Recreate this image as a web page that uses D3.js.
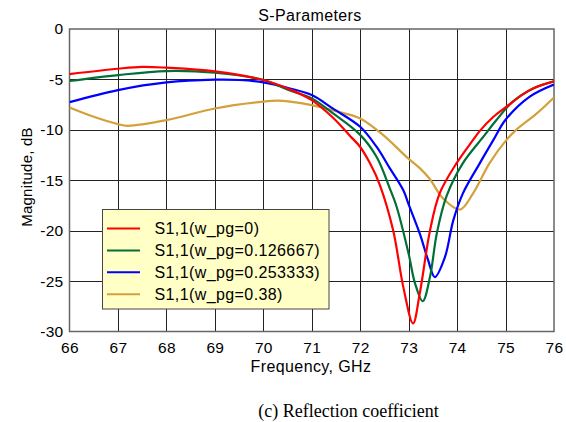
<!DOCTYPE html>
<html><head><meta charset="utf-8">
<script src="https://cdn.jsdelivr.net/npm/d3@7/dist/d3.min.js"></script>
<style>body{margin:0;background:#fff;}svg{display:block;font-family:"Liberation Sans",Arial,sans-serif;}</style>
</head><body><svg id="c" width="566" height="422"></svg>
<script>
const xTicks = [66,67,68,69,70,71,72,73,74,75,76];
const yTicks = [0,-5,-10,-15,-20,-25,-30];
const seriesNames = ["S1,1(w_pg=0)","S1,1(w_pg=0.126667)","S1,1(w_pg=0.253333)","S1,1(w_pg=0.38)"];
const seriesColors = ["#ff0000","#007036","#0000ff","#d4a03c"];

const freqRed = [66,67,67.5,68,69,70,70.55,71,71.44,71.79,72,72.2,72.4,72.68,72.89,73.09,73.23,73.44,73.64,73.99,74.33,74.47,74.75,75.02,75.5,76];
const magRed  = [-4.47,-3.94,-3.76,-3.84,-4.2,-5.06,-6.0,-7.05,-8.8,-10.6,-11.7,-13.3,-15.4,-19.96,-25.6,-29.2,-26.2,-20,-16.3,-13.3,-11.0,-10.1,-8.7,-7.7,-6.06,-5.2];

const freqGreen = [66,67,68,69,70,70.55,71,71.44,72,72.34,72.61,72.75,73.0,73.13,73.29,73.44,73.58,73.78,74.12,74.54,74.8,75.15,75.57,76];
const magGreen  = [-5.16,-4.57,-4.17,-4.34,-5.06,-6.1,-6.88,-8.37,-10.5,-12.7,-15.8,-17.6,-22.3,-25.2,-27.0,-24.6,-20.3,-16.6,-13.3,-10.7,-9.1,-7.2,-5.9,-5.2];

const freqBlue = [66,67,68,69,69.5,70,70.55,71,71.44,72,72.34,72.61,72.89,73.0,73.23,73.4,73.54,73.75,73.92,74.12,74.47,74.75,75.0,75.5,76];
const magBlue  = [-7.25,-6.06,-5.3,-5.03,-5.06,-5.3,-5.9,-6.55,-7.9,-9.7,-11.7,-13.8,-16.0,-17.4,-20.3,-22.9,-24.6,-22.6,-19.0,-16.3,-13.3,-11.0,-9.0,-6.7,-5.5];

const freqGold = [66,66.5,67,67.2,68,69,70,70.3,70.55,71,71.54,72,72.47,72.96,73.23,73.44,73.71,74.06,74.33,74.67,75.02,75.22,75.64,76];
const magGold  = [-7.78,-8.7,-9.43,-9.6,-9.04,-7.88,-7.2,-7.1,-7.2,-7.55,-8.2,-8.87,-10.5,-12.7,-13.8,-14.9,-16.8,-17.9,-16.3,-13.3,-11.0,-10.0,-8.4,-6.8];

const freqs = [freqRed,freqGreen,freqBlue,freqGold];
const mags = [magRed,magGreen,magBlue,magGold];

const svg = d3.select("#c");
const L=69.5, R=554, T=29, B=331.5;
const x = d3.scaleLinear().domain([66,76]).range([L,R]);
const y = d3.scaleLinear().domain([0,-30]).range([T,B]);

// grid
const g = svg.append("g");
g.selectAll("line.v").data(xTicks.slice(1,-1)).enter().append("line")
  .attr("x1",d=>Math.round(x(d))+0.5).attr("x2",d=>Math.round(x(d))+0.5)
  .attr("y1",T).attr("y2",B).attr("stroke","#222").attr("stroke-width",1);
g.selectAll("line.h").data(yTicks.slice(1,-1)).enter().append("line")
  .attr("y1",d=>Math.round(y(d))+0.5).attr("y2",d=>Math.round(y(d))+0.5)
  .attr("x1",L).attr("x2",R).attr("stroke","#222").attr("stroke-width",1);
svg.append("rect").attr("x",L).attr("y",T).attr("width",R-L).attr("height",B-T)
  .attr("fill","none").attr("stroke","#666").attr("stroke-width",1.5);

// axes labels
const xa = svg.append("g").attr("transform",`translate(0,${B})`)
  .call(d3.axisBottom(x).tickValues(xTicks).tickSize(0).tickPadding(10).tickFormat(d3.format("d")));
xa.select(".domain").remove();
xa.selectAll("text").attr("font-size",15.5).attr("fill","#000").attr("font-family","Liberation Sans, Arial, sans-serif").attr("letter-spacing",0.3);
const ya = svg.append("g").attr("transform",`translate(${L},0)`)
  .call(d3.axisLeft(y).tickValues(yTicks).tickSize(0).tickPadding(6).tickFormat(d=>d===0?"0":String(d).replace("\u2212","-")));
ya.select(".domain").remove();
ya.selectAll("text").attr("font-size",15.5).attr("fill","#000").attr("font-family","Liberation Sans, Arial, sans-serif").attr("letter-spacing",0.3);

svg.append("text").attr("x",310).attr("y",21).attr("text-anchor","middle").attr("font-size",16).attr("letter-spacing",0.4).text("S-Parameters");
svg.append("text").attr("x",311).attr("y",372).attr("text-anchor","middle").attr("font-size",16).attr("letter-spacing",0.4).text("Frequency, GHz");
svg.append("text").attr("transform",`translate(32,${177}) rotate(-90)`).attr("text-anchor","middle").attr("font-size",15).attr("letter-spacing",0.2).text("Magnitude, dB");
svg.append("text").attr("x",348.5).attr("y",417).attr("text-anchor","middle").attr("font-size",18)
  .attr("font-family","Liberation Serif, Times New Roman, serif").text("(c) Reflection coefficient");

// curves
const line = d3.line().x(d=>x(d[0])).y(d=>y(d[1])).curve(d3.curveCatmullRom.alpha(0.5));
svg.append("clipPath").attr("id","cp").append("rect").attr("x",L).attr("y",T).attr("width",R-L).attr("height",B-T);
const lines = svg.append("g").attr("clip-path","url(#cp)");
[3,2,1,0].forEach(i=>{
  lines.append("path").datum(freqs[i].map((f,k)=>[f,mags[i][k]]))
    .attr("d",line).attr("fill","none").attr("stroke",seriesColors[i]).attr("stroke-width",2.2).attr("stroke-linejoin","round");
});

// legend
const lg = svg.append("g");
lg.append("rect").attr("x",102.5).attr("y",209.5).attr("width",226.5).attr("height",99.5)
  .attr("fill","#ffffc6").attr("stroke","#444").attr("stroke-width",1);
seriesNames.forEach((n,i)=>{
  const yy = 228.5 + i*21.9;
  lg.append("line").attr("x1",107).attr("x2",140).attr("y1",yy).attr("y2",yy).attr("stroke",seriesColors[i]).attr("stroke-width",2);
  lg.append("text").attr("x",154.5).attr("y",yy+5.5).attr("font-size",16).attr("letter-spacing",0.4).text(n);
});
</script></body></html>
